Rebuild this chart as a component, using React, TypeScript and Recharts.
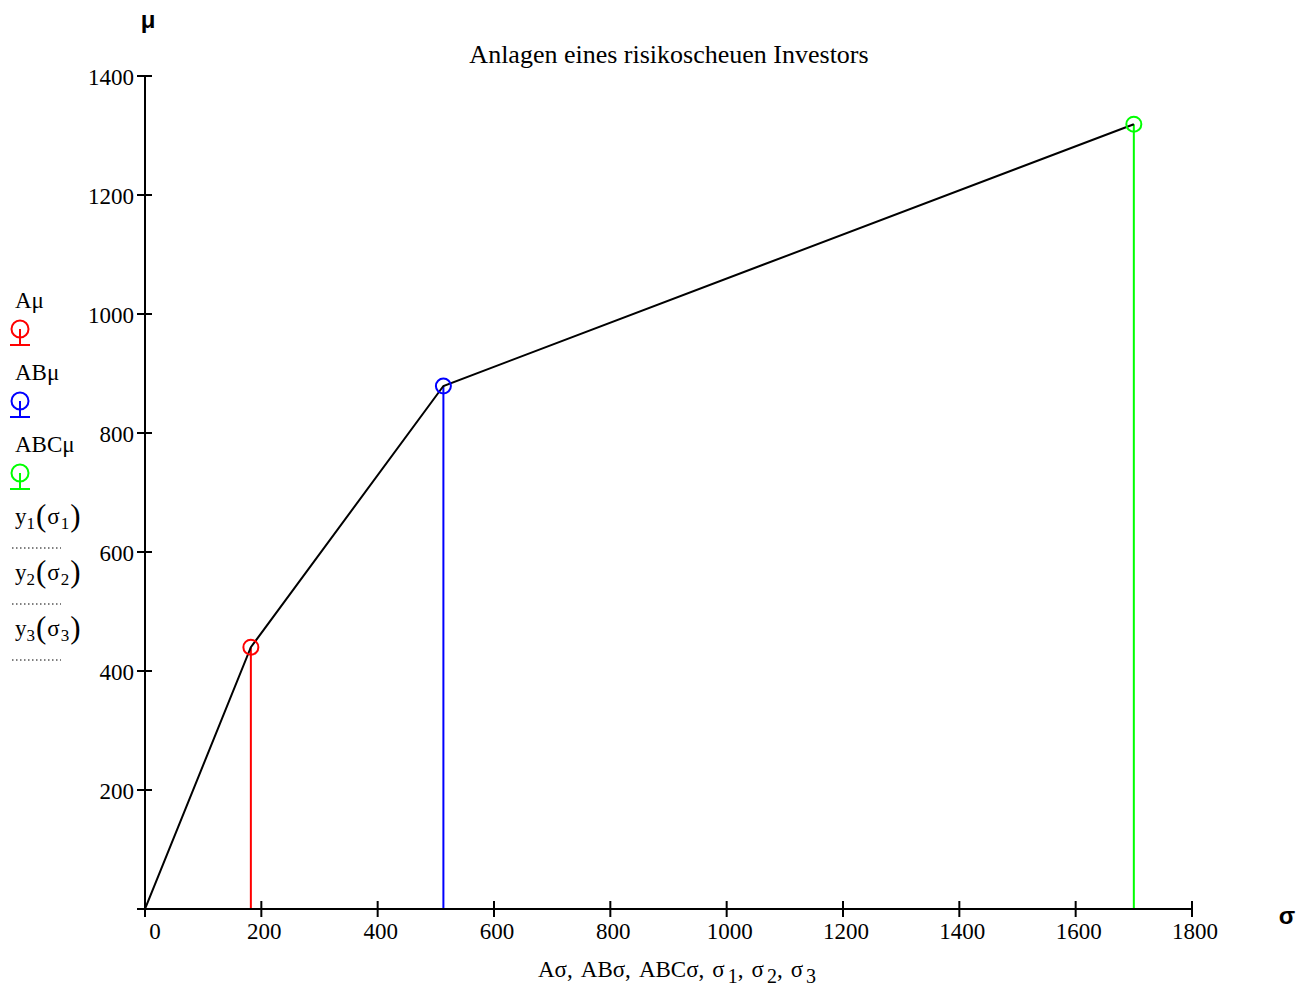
import React from "react";
import { ComposedChart, Line, Scatter, XAxis, YAxis } from "recharts";

// ---- data ----
const pointNames = ["Aμ", "ABμ", "ABCμ"];
const pointSigma = [182, 513, 1700];
const pointMu = [440, 879, 1319];

const frontierSigma = [0, 182, 513, 1700];
const frontierMu = [0, 440, 879, 1319];

const xTicks = [0, 200, 400, 600, 800, 1000, 1200, 1400, 1600, 1800];
const yTicks = [0, 200, 400, 600, 800, 1000, 1200, 1400];

const curveNames = ["y1(σ1)", "y2(σ2)", "y3(σ3)"];

const chartTitle = "Anlagen eines risikoscheuen Investors";

// ---- styles ----
const pointColors = ["#ff0000", "#0000ff", "#00ff00"];
const SERIF = "'Liberation Serif', 'Times New Roman', serif";
const SANS = "'Liberation Sans', Arial, sans-serif";
const W = 1313;
const H = 989;

const frontierData = frontierSigma.map((x, i) => ({ x, y: frontierMu[i] }));
const stemData = pointSigma.map((x, i) => [
  { x, y: 0 },
  { x, y: pointMu[i] },
]);
const pointData = pointSigma.map((x, i) => [{ x, y: pointMu[i] }]);

const XTick = (props: any) => {
  const { x, y, payload } = props;
  const v = payload.value;
  const dx = v === 0 ? 10 : 3;
  return (
    <g>
      <line x1={x} x2={x} y1={y - 8} y2={y + 8} stroke="#000" strokeWidth={2} />
      <text x={x + dx} y={y + 30} textAnchor="middle" fontFamily={SERIF} fontSize={23} fill="#000">
        {String(v)}
      </text>
    </g>
  );
};

const YTick = (props: any) => {
  const { x, y, payload } = props;
  const v = payload.value;
  return (
    <g>
      <line x1={x - 8} x2={x + 7} y1={y} y2={y} stroke="#000" strokeWidth={2} />
      {v !== 0 && (
        <text x={x - 11} y={y + 9} textAnchor="end" fontFamily={SERIF} fontSize={23} fill="#000">
          {String(v)}
        </text>
      )}
    </g>
  );
};

const makeCircle = (color: string) => (props: any) => {
  const { cx, cy } = props;
  return <circle cx={cx} cy={cy} r={7.5} fill="none" stroke={color} strokeWidth={2} />;
};

const LegendSymbol = ({ cx, cy, color }: { cx: number; cy: number; color: string }) => (
  <g stroke={color} strokeWidth={2} fill="none">
    <circle cx={cx} cy={cy} r={8.5} />
    <line x1={cx} x2={cx} y1={cy} y2={cy + 16} />
    <line x1={cx - 10} x2={cx + 10} y1={cy + 16} y2={cy + 16} />
  </g>
);

const CurveLabel = ({ x, y, name }: { x: number; y: number; name: string }) => {
  const m = name.match(/^y(\d)\(σ(\d)\)$/);
  const a = m ? m[1] : "";
  const b = m ? m[2] : "";
  return (
    <text x={x} y={y} fontFamily={SERIF} fontSize={23} fill="#000">
      <tspan>y</tspan>
      <tspan fontSize={17} dy={5}>{a}</tspan>
      <tspan fontSize={31} dy={-3} dx={1}>(</tspan>
      <tspan dy={-2} dx={1}>σ</tspan>
      <tspan fontSize={17} dy={5} dx={1}>{b}</tspan>
      <tspan fontSize={31} dy={-3} dx={1}>)</tspan>
    </text>
  );
};

export default function App() {
  const legendTop = 308;
  return (
    <div style={{ position: "absolute", left: 0, top: 0, width: W, height: H, background: "#fff" }}>
      <ComposedChart
        width={W}
        height={H}
        margin={{ top: 76, right: 121, left: 0, bottom: 0 }}
      >
        <XAxis
          dataKey="x"
          type="number"
          domain={[0, 1800]}
          ticks={xTicks}
          tickSize={0}
          tickMargin={0}
          height={80}
          axisLine={{ stroke: "#000", strokeWidth: 2 }}
          tick={<XTick />}
          allowDataOverflow
          interval={0}
        />
        <YAxis
          dataKey="y"
          type="number"
          domain={[0, 1400]}
          ticks={yTicks}
          tickSize={0}
          tickMargin={0}
          width={145}
          axisLine={{ stroke: "#000", strokeWidth: 2 }}
          tick={<YTick />}
          allowDataOverflow
          interval={0}
        />
        {stemData.map((d, i) => (
          <Line
            key={"stem" + i}
            data={d}
            dataKey="y"
            stroke={pointColors[i]}
            strokeWidth={2}
            dot={false}
            activeDot={false}
            isAnimationActive={false}
            type="linear"
          />
        ))}
        <Line
          data={frontierData}
          dataKey="y"
          stroke="#000"
          strokeWidth={2}
          dot={false}
          activeDot={false}
          isAnimationActive={false}
          type="linear"
        />
        {pointData.map((d, i) => (
          <Scatter
            key={"pt" + i}
            data={d}
            dataKey="y"
            shape={makeCircle(pointColors[i])}
            isAnimationActive={false}
          />
        ))}
      </ComposedChart>
      <svg
        width={W}
        height={H}
        style={{ position: "absolute", left: 0, top: 0, pointerEvents: "none" }}
      >
        <text x={669} y={63} textAnchor="middle" fontFamily={SERIF} fontSize={26} fill="#000">
          {chartTitle}
        </text>
        <text x={148} y={28} textAnchor="middle" fontFamily={SANS} fontWeight="bold" fontSize={24} fill="#000">
          μ
        </text>
        <text x={1287} y={924} textAnchor="middle" fontFamily={SANS} fontWeight="bold" fontSize={24} fill="#000">
          σ
        </text>
        <text x={538} y={977} fontFamily={SERIF} fontSize={23} fill="#000">
          <tspan>Aσ,</tspan>
          <tspan dx={8}>ABσ,</tspan>
          <tspan dx={8}>ABCσ,</tspan>
          <tspan dx={8}>σ</tspan>
          <tspan fontSize={20} dx={3} dy={6}>1</tspan>
          <tspan dy={-6}>,</tspan>
          <tspan dx={8}>σ</tspan>
          <tspan fontSize={20} dx={3} dy={6}>2</tspan>
          <tspan dy={-6}>,</tspan>
          <tspan dx={8}>σ</tspan>
          <tspan fontSize={20} dx={3} dy={6}>3</tspan>
        </text>
        {pointNames.map((n, i) => (
          <g key={n}>
            <text x={15} y={legendTop + i * 72} fontFamily={SERIF} fontSize={23} fill="#000">
              {n}
            </text>
            <LegendSymbol cx={20} cy={legendTop + 21 + i * 72} color={pointColors[i]} />
          </g>
        ))}
        {curveNames.map((n, i) => (
          <g key={n}>
            <CurveLabel x={15} y={524 + i * 56} name={n} />
            <line
              x1={12}
              x2={61}
              y1={548 + i * 56}
              y2={548 + i * 56}
              stroke="#000"
              strokeWidth={1}
              strokeDasharray="1.5 2.5"
            />
          </g>
        ))}
      </svg>
    </div>
  );
}
